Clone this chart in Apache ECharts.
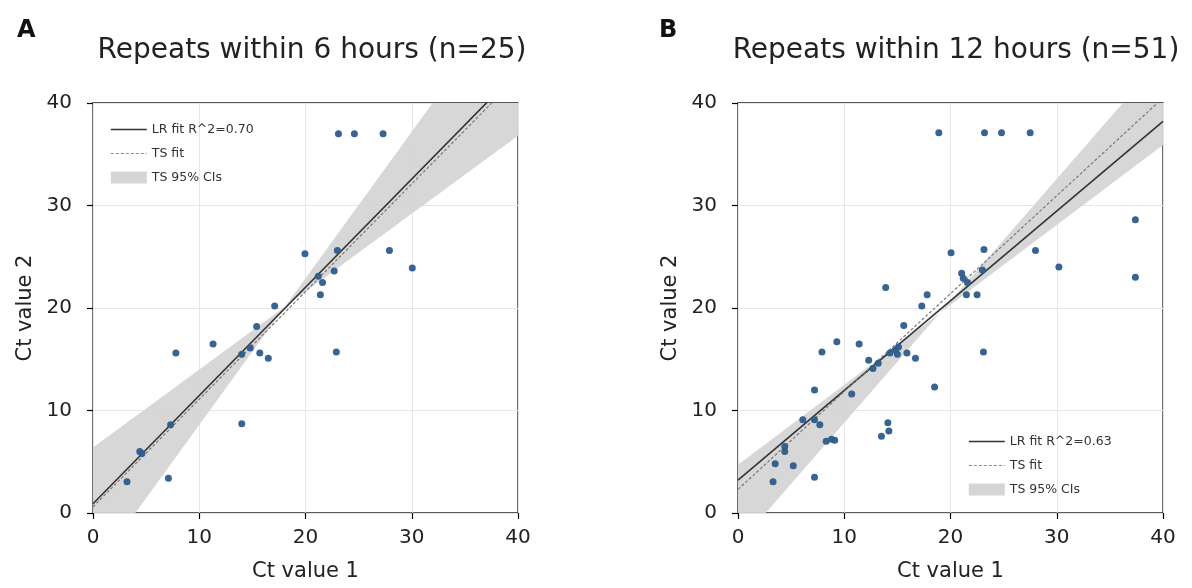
<!DOCTYPE html>
<html>
<head>
<meta charset="utf-8">
<script src="https://cdn.jsdelivr.net/npm/echarts@6/dist/echarts.min.js"></script>
<style>
html,body{margin:0;padding:0;background:#fff;}
#chart{width:1192px;height:588px;}
</style>
</head>
<body>
<div id="chart"></div>
<script>
// ---------- data ----------
const axisTicks = [0, 10, 20, 30, 40];
const titles = ['Repeats within 6 hours (n=25)', 'Repeats within 12 hours (n=51)'];
const panelLetters = ['A', 'B'];
const xLabel = 'Ct value 1';
const yLabel = 'Ct value 2';

// Panel A points
const xA = [17.1, 15.4, 11.3, 7.8, 14.0, 14.8, 15.7, 16.5, 14.0, 7.3, 4.4, 4.6, 3.2, 7.1,
            23.1, 24.6, 27.3, 19.95, 23.0, 27.9, 30.05, 22.7, 21.2, 21.6, 21.4, 22.9];
const yA = [20.2, 18.2, 16.5, 15.6, 15.5, 16.1, 15.6, 15.1, 8.7, 8.6, 6.0, 5.8, 3.05, 3.4,
            37.0, 37.0, 37.0, 25.3, 25.6, 25.6, 23.9, 23.6, 23.1, 22.5, 21.3, 15.7];

// Panel B points
const xB = [18.9, 20.05, 13.9, 17.8, 23.2, 24.8, 27.5, 23.15, 28.0, 30.2, 37.4, 37.4,
            21.05, 21.6, 22.5, 21.5, 23.0, 17.3, 15.6, 9.3, 11.4, 7.9, 12.3, 12.7, 13.2,
            14.3, 14.8, 15.1, 15.0, 15.9, 16.7, 18.5, 7.2, 10.7, 6.1, 7.2, 7.7, 14.1, 14.2,
            13.5, 8.3, 8.8, 9.1, 4.4, 4.4, 3.5, 5.2, 3.3, 7.2, 23.1, 21.2];
const yB = [37.1, 25.4, 22.0, 21.3, 37.1, 37.1, 37.1, 25.7, 25.6, 24.0, 28.6, 23.0,
            23.4, 22.5, 21.3, 21.3, 23.7, 20.2, 18.3, 16.7, 16.5, 15.7, 14.9, 14.1, 14.6,
            15.6, 15.9, 16.2, 15.5, 15.6, 15.1, 12.3, 12.0, 11.6, 9.1, 9.1, 8.6, 8.8, 8.0,
            7.5, 7.0, 7.2, 7.1, 6.5, 6.0, 4.8, 4.6, 3.05, 3.5, 15.7, 22.9];

// Fit lines: [intercept, slope]
const lrA = [0.9, 1.056];
const tsA = [0.6, 1.05];
const ciA = [[6.4, 0.76], [-5.7, 1.43]];
const lrB = [3.2, 0.875];
const tsB = [2.3, 0.955];
const ciB = [[4.7, 0.78], [-3.1, 1.19]];

const lrNames = ['LR fit R^2=0.70', 'LR fit R^2=0.63'];
const tsName = 'TS fit';
const ciName = 'TS 95% CIs';

// ---------- build ----------
const FONT = 'DejaVu Sans';
const zip = (xs, ys) => xs.map((x, i) => [x, ys[i]]);
const lineData = (p) => [[0, p[0]], [40, p[0] + 40 * p[1]]];

const grids = [
  {left: 93, top: 103, width: 425, height: 410},
  {left: 738, top: 103, width: 425, height: 410}
];

function bandSeries(idx, ci) {
  return {
    type: 'custom',
    name: ciName,
    xAxisIndex: idx, yAxisIndex: idx,
    clip: true,
    z: 1,
    itemStyle: {color: '#d5d5d5'},
    data: [[0, 0]],
    renderItem: function (params, api) {
      const [a1, b1] = ci[0], [a2, b2] = ci[1];
      const f1 = x => a1 + b1 * x, f2 = x => a2 + b2 * x;
      const xc = (a2 - a1) / (b1 - b2);
      const yc = f1(xc);
      const pts = [
        [0, Math.max(f1(0), f2(0))], [xc, yc], [40, Math.max(f1(40), f2(40))],
        [40, Math.min(f1(40), f2(40))], [xc, yc], [0, Math.min(f1(0), f2(0))]
      ].map(p => api.coord(p));
      return {
        type: 'polygon',
        shape: {points: pts},
        style: {fill: '#d5d5d5', opacity: 0.95}
      };
    }
  };
}

const xAxes = [], yAxes = [], series = [];
[0, 1].forEach(i => {
  const axisCommon = {
    gridIndex: i, type: 'value', min: 0, max: 40, interval: 10,
    axisLine: {show: false},
    axisTick: {show: true, length: 6, lineStyle: {color: '#000', width: 1.2}},
    splitLine: {show: true, lineStyle: {color: '#e6e6e6', width: 1}},
    axisLabel: {color: '#222', fontSize: 20, fontFamily: FONT},
    nameTextStyle: {color: '#222', fontSize: 21, fontFamily: FONT}
  };
  xAxes.push(Object.assign({}, axisCommon, {
    position: 'bottom', name: xLabel, nameLocation: 'middle', nameGap: 48,
    axisLabel: Object.assign({}, axisCommon.axisLabel, {margin: 15})
  }));
  yAxes.push(Object.assign({}, axisCommon, {
    position: 'left', name: yLabel, nameLocation: 'middle', nameGap: 57,
    axisLabel: Object.assign({}, axisCommon.axisLabel, {margin: 21})
  }));
});

const panels = [
  {pts: zip(xA, yA), lr: lrA, ts: tsA, ci: ciA},
  {pts: zip(xB, yB), lr: lrB, ts: tsB, ci: ciB}
];
panels.forEach((p, i) => {
  series.push(bandSeries(i, p.ci));
  series.push({
    type: 'line', name: lrNames[i], xAxisIndex: i, yAxisIndex: i,
    data: lineData(p.lr), symbol: 'none', clip: true, z: 3,
    lineStyle: {color: '#333', width: 1.6}, itemStyle: {color: '#333'}
  });
  series.push({
    type: 'line', name: tsName, xAxisIndex: i, yAxisIndex: i,
    data: lineData(p.ts), symbol: 'none', clip: true, z: 3,
    lineStyle: {color: '#7a7a7a', width: 1.2, type: [3, 2]}, itemStyle: {color: '#7a7a7a'}
  });
  series.push({
    type: 'scatter', name: 'points' + i, xAxisIndex: i, yAxisIndex: i,
    data: p.pts, symbolSize: 7, z: 5,
    itemStyle: {color: '#2d5c8c', opacity: 0.95}
  });
});

const legendCommon = {
  orient: 'vertical', itemWidth: 36, itemHeight: 12, itemGap: 11,
  textStyle: {color: '#333', fontSize: 12.5, fontFamily: FONT},
  selectedMode: false
};
const hiddenSymbol = {color: 'rgba(0,0,0,0)', borderWidth: 0, borderColor: 'rgba(0,0,0,0)'};
const legendData = (i) => [
  {name: lrNames[i], itemStyle: hiddenSymbol, lineStyle: {color: '#333', width: 1.6}},
  {name: tsName, itemStyle: hiddenSymbol, lineStyle: {color: '#8a8a8a', width: 1.2, type: [3, 2]}},
  {name: ciName, icon: 'rect', itemStyle: {color: '#d5d5d5'}}
];

const option = {
  animation: false,
  backgroundColor: '#fff',
  grid: grids.map(g => Object.assign({}, g, {show: true, borderColor: '#222', borderWidth: 1.3, backgroundColor: 'transparent'})),
  xAxis: xAxes,
  yAxis: yAxes,
  title: [
    {text: titles[0], left: 307, top: 32, textAlign: 'center', textStyle: {fontSize: 28, fontWeight: 'normal', color: '#222', fontFamily: FONT}},
    {text: titles[1], left: 951, top: 32, textAlign: 'center', textStyle: {fontSize: 28, fontWeight: 'normal', color: '#222', fontFamily: FONT}},
    {text: panelLetters[0], left: 12, top: 14, textStyle: {fontSize: 24, fontWeight: 'bold', color: '#111', fontFamily: FONT}},
    {text: panelLetters[1], left: 654, top: 14, textStyle: {fontSize: 24, fontWeight: 'bold', color: '#111', fontFamily: FONT}}
  ],
  legend: [
    Object.assign({}, legendCommon, {left: 105, top: 118, data: legendData(0)}),
    Object.assign({}, legendCommon, {left: 963, top: 430, data: legendData(1)})
  ],
  series: series
};

const chart = echarts.init(document.getElementById('chart'), null, {renderer: 'canvas'});
chart.setOption(option);
</script>
</body>
</html>
